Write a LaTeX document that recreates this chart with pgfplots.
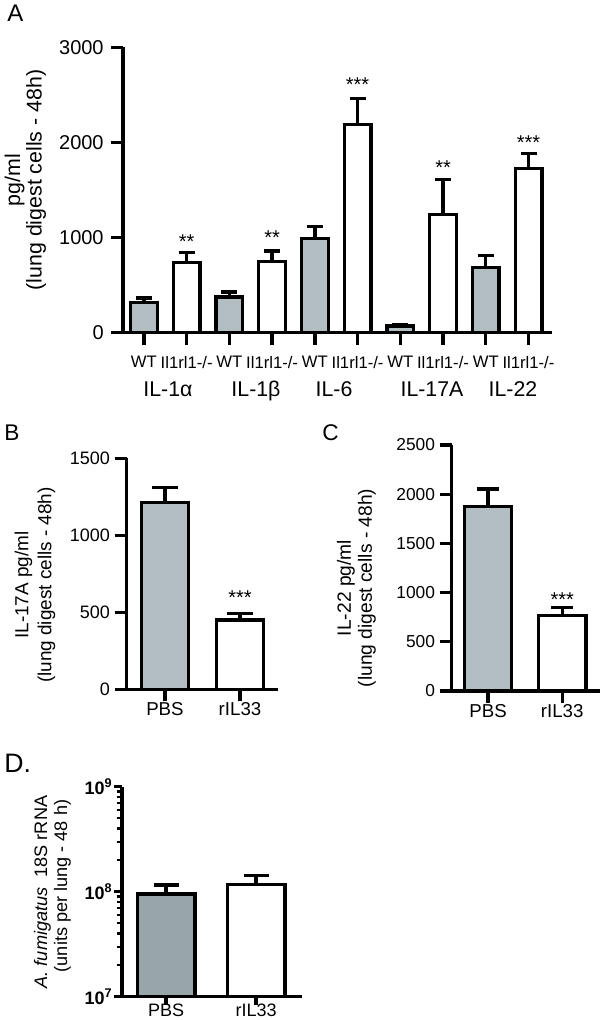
\documentclass[border=0pt]{standalone}
\usepackage{fontspec}
\setmainfont{Liberation Sans}
\usepackage{pgfplots}
\usepackage{pgfplotstable}
\pgfplotsset{compat=1.18}
\definecolor{barA}{RGB}{178,190,194}
\definecolor{barD}{RGB}{152,166,169}

\pgfplotstableread{
x y e
0 315 50
2 375 53
4 988 127
6 70 18
8 683 127
}\Awt
\pgfplotstableread{
x y e
1 740 105
3 747 112
5 2187 273
7 1244 368
9 1724 158
}\Ako
\pgfplotstableread{
x y e
0 1212 97
}\Bpbs
\pgfplotstableread{
x y e
1 450 43
}\Bril
\pgfplotstableread{
x y e
0 1873 180
}\Cpbs
\pgfplotstableread{
x y e
1 766 81
}\Cril
\pgfplotstableread{
x y e
0 9.5e7 2.1e7
}\Dpbs
\pgfplotstableread{
x y e
1 1.166e8 2.64e7
}\Dril

\pgfplotsset{
  panel/.style={
    scale only axis,
    anchor=south west,
    axis x line=bottom, axis y line=left,
    axis line style={line width=2.5pt,-},
    tick align=outside,
    major tick length=9pt,
    minor tick length=5pt,
    tick style={line width=2.5pt,black},
    minor tick style={line width=1.6pt,black},
    clip=false,
    /pgf/number format/assume math mode=true,
    /pgf/number format/1000 sep={},
  },
  bars/.style 2 args={ybar, bar width=#1, bar shift=0pt, draw=black, line width=2.5pt,
    error bars/y dir=plus, error bars/y explicit,
    error bars/error bar style={line width=2.5pt,black},
    error bars/error mark options={rotate=90,line width=2.5pt,black,mark size=#2},
  },
}

\begin{document}
\begin{tikzpicture}
\useasboundingbox (0,0) rectangle (450pt,-765pt);

% ---------- Panel A ----------
\begin{axis}[panel,
  at={(92.25pt,-249.5pt)}, width=321.75pt, height=214.05pt,
  xmin=-0.49, xmax=9.55, ymin=0, ymax=3000,
  ytick={0,1000,2000,3000},
  xtick={0,...,9},
  xticklabels={WT,Il1rl1-/-,WT,Il1rl1-/-,WT,Il1rl1-/-,WT,Il1rl1-/-,WT,Il1rl1-/-},
  yticklabel style={font=\fontsize{15}{18}\selectfont, xshift=-2pt},
  xticklabel style={font=\fontsize{12.5}{15}\selectfont, yshift=-5pt},
]
\addplot[fill=barA, bars={20pt}{6pt}] table[x=x,y=y,y error=e]{\Awt};
\addplot[fill=white, bars={20pt}{6pt}] table[x=x,y=y,y error=e]{\Ako};
\node[anchor=base,font=\fontsize{15}{18}\selectfont] at (axis cs:1,887) {**};
\node[anchor=base,font=\fontsize{15}{18}\selectfont] at (axis cs:3,923) {**};
\node[anchor=base,font=\fontsize{15}{18}\selectfont] at (axis cs:5,2535) {***};
\node[anchor=base,font=\fontsize{15}{18}\selectfont] at (axis cs:7,1666) {**};
\node[anchor=base,font=\fontsize{15}{18}\selectfont] at (axis cs:9,1921) {***};
\end{axis}

% ---------- Panel B ----------
\begin{axis}[panel,
  at={(95.0pt,-517.0pt)}, width=113.7pt, height=173.25pt,
  xmin=-0.51, xmax=1.51, ymin=0, ymax=1500,
  ytick={0,500,1000,1500},
  xtick={0,1}, xticklabels={PBS,rIL33},
  yticklabel style={font=\fontsize{13.5}{16}\selectfont},
  xticklabel style={font=\fontsize{14}{16}\selectfont, inner sep=1pt},
]
\addplot[fill=barA, bars={35.4pt}{10pt}] table[x=x,y=y,y error=e]{\Bpbs};
\addplot[fill=white, bars={35.4pt}{10pt}] table[x=x,y=y,y error=e]{\Bril};
\node[anchor=base,font=\fontsize{15}{18}\selectfont] at (axis cs:1,553) {***};
\end{axis}

% ---------- Panel C ----------
\begin{axis}[panel,
  at={(338.8pt,-518.25pt)}, width=111.2pt, height=184.5pt,
  xmin=-0.49, xmax=1.51, ymin=0, ymax=2500,
  ytick={0,500,1000,1500,2000,2500},
  xtick={0,1}, xticklabels={PBS,rIL33},
  yticklabel style={font=\fontsize{13}{16}\selectfont},
  xticklabel style={font=\fontsize{14}{16}\selectfont, inner sep=1pt},
]
\addplot[fill=barA, bars={35.6pt}{8.25pt}] table[x=x,y=y,y error=e]{\Cpbs};
\addplot[fill=white, bars={35.6pt}{8.25pt}] table[x=x,y=y,y error=e]{\Cril};
\node[anchor=base,font=\fontsize{15}{18}\selectfont] at (axis cs:1,858) {***};
\end{axis}

% ---------- Panel D ----------
\begin{axis}[panel,
  at={(91.5pt,-747.5pt)}, width=135pt, height=157.5pt,
  major tick length=6pt, minor tick length=4pt,
  ymode=log, log origin=infty,
  xmin=-0.49, xmax=1.51, ymin=1e7, ymax=1e9,
  ytick={1e7,1e8,1e9},
  yticklabels={\textbf{10\textsuperscript{7}},\textbf{10\textsuperscript{8}},\textbf{10\textsuperscript{9}}},
  minor ytick={2e7,3e7,4e7,5e7,6e7,7e7,8e7,9e7,2e8,3e8,4e8,5e8,6e8,7e8,8e8,9e8},
  xtick={0,1}, xticklabels={PBS,rIL33},
  yticklabel style={font=\fontsize{13.5}{16}\selectfont, inner sep=1pt},
  xticklabel style={font=\fontsize{13.5}{16}\selectfont, inner sep=0.5pt, yshift=1.5pt},
]
\addplot[fill=barD, bars={43.2pt}{9.4pt}] table[x=x,y=y,y error=e]{\Dpbs};
\addplot[fill=white, bars={43.2pt}{9.4pt}] table[x=x,y=y,y error=e]{\Dril};
\end{axis}

% ---------- texts (pixel coordinates) ----------
\begin{scope}[x=0.75pt,y=-0.75pt]
\node[anchor=base west,font=\fontsize{18}{20}\selectfont,inner sep=0] at (7,22) {A};
\node[anchor=base west,font=\fontsize{17}{20}\selectfont,inner sep=0] at (4,440) {B};
\node[anchor=base west,font=\fontsize{17}{20}\selectfont,inner sep=0] at (322,440) {C};
\node[anchor=base west,font=\fontsize{20}{22}\selectfont,inner sep=0] at (4,772) {D.};

\node[rotate=90,font=\fontsize{16}{18}\selectfont] at (14.5,180) {pg/ml};
\node[rotate=90,font=\fontsize{16}{18}\selectfont] at (36,180) {(lung digest cells - 48h)};

\foreach \lab/\xx in {IL-1α/168, IL-1β/256, IL-6/334, IL-17A/432, IL-22/513}
  \node[anchor=base,font=\fontsize{16}{18}\selectfont] at (\xx,396) {\lab};

\node[rotate=90,font=\fontsize{14.2}{17}\selectfont] at (23.5,585) {IL-17A pg/ml};
\node[rotate=90,font=\fontsize{14.2}{17}\selectfont] at (46.5,585) {(lung digest cells - 48h)};

\node[rotate=90,font=\fontsize{14.4}{17}\selectfont] at (346,588) {IL-22 pg/ml};
\node[rotate=90,font=\fontsize{14.4}{17}\selectfont] at (367,588) {(lung digest cells - 48h)};

\node[rotate=90,font=\fontsize{13.6}{16}\selectfont] at (42.5,892) {\textit{A. fumigatus}\ \ 18S rRNA};
\node[rotate=90,font=\fontsize{13.6}{16}\selectfont] at (62.5,886) {(units per lung - 48 h)};
\end{scope}
\end{tikzpicture}
\end{document}
